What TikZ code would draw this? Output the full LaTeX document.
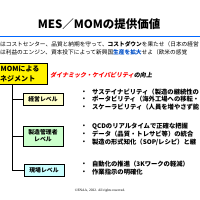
\documentclass[tikz,border=0pt]{standalone}
\usepackage{fontspec}
\usetikzlibrary{shadows}
\newfontfamily\jp{Noto Sans CJK JP}
\newfontfamily\jpsl{Noto Sans CJK JP}[FakeSlant=0.2]
\newfontfamily\cpfont{Liberation Serif}
\definecolor{titleblue}{RGB}{0,102,255}
\definecolor{textblue}{RGB}{0,80,200}
\definecolor{lvyellow}{RGB}{255,255,204}
\definecolor{lvgreen}{RGB}{204,255,204}
\definecolor{lvcyan}{RGB}{204,255,255}
\tikzset{
  body/.style={anchor=west, inner sep=0pt, font=\jp\fontsize{8.1}{9}\selectfont},
  bul/.style={anchor=west, inner sep=0pt, font=\jp\bfseries\fontsize{9}{10}\selectfont},
  dot/.style={anchor=center, inner sep=0pt, font=\jp\bfseries\fontsize{8}{9}\selectfont},
  lvbox/.style={draw=black, line width=0.5pt, minimum width=20mm, align=center, inner sep=0pt,
    font=\jp\bfseries\fontsize{8.3}{10}\selectfont,
    drop shadow={shadow xshift=0.35mm, shadow yshift=-0.35mm, fill=black!60, opacity=1}},
  conn/.style={draw=black, line width=0.5pt}
}
\begin{document}
\begin{tikzpicture}[x=0.5mm,y=-0.5mm]
\useasboundingbox (0,0) rectangle (200,200);
\clip (0,0) rectangle (200,200);
\fill[white] (0,0) rectangle (200,200);
% title
\node[inner sep=0pt, font=\jp\bfseries\fontsize{16.3}{18}\selectfont] (title) at (99,24) {MES／MOMの提供価値};
\coordinate (bl) at (0,36);
\coordinate (br) at (200,36);
\draw[titleblue, line width=1.3pt] (bl) -- (br);
% intro lines
\node[body] (l1) at (0,44) {はコストセンター、品質と納期を守って、\textbf{コストダウン}を果たせ（日本の経営};
\node[body] (l2) at (0,52) {は利益のエンジン、資本投下によって新興国\textcolor{textblue}{\textbf{生産を拡大}}せよ（欧米の感覚};
% MOM box
\node[draw=black, fill=yellow, line width=0.6pt, minimum width=26mm, minimum height=10.5mm, inner sep=0pt,
  drop shadow={shadow xshift=0.35mm, shadow yshift=-0.35mm, fill=black!60}] (mom) at (21,73.5) {};
\node[anchor=west, inner sep=0pt, font=\jp\bfseries\fontsize{10}{11}\selectfont] (mom1) at (0.5,69) {MOMによる};
\node[anchor=west, inner sep=0pt, font=\jp\bfseries\fontsize{10}{11}\selectfont] (mom2) at (0,78.5) {ネジメント};
% red subtitle
\node[anchor=west, inner sep=0pt, font=\jpsl\bfseries\fontsize{8.6}{9}\selectfont] (dyn) at (50,75) {\textcolor{red}{ダイナミック・ケイパビリティ}の向上};
% level boxes
\node[lvbox, fill=lvyellow, minimum height=6mm] (lv1) at (43,99) {経営レベル};
\node[lvbox, fill=lvgreen, minimum height=10mm] (lv2) at (43,136) {製造管理者\\レベル};
\node[lvbox, fill=lvcyan, minimum height=6mm] (lv3) at (44,170) {現場レベル};
% connectors
\coordinate (trunk) at (12,0);
\draw[conn] (mom.south -| trunk) |- (lv1.west);
\draw[conn] (mom.south -| trunk) |- (lv2.west);
\draw[conn] (mom.south -| trunk) |- (lv3.west);
% bullets group 1
\node[dot] (d11) at (84,92) {•};
\node[dot] (d12) at (84,99.5) {•};
\node[dot] (d13) at (84,107) {•};
\node[bul] (b11) at (92,92) {サステイナビリティ（製造の継続性の};
\node[bul] (b12) at (92,99.5) {ポータビリティ（海外工場への移転・};
\node[bul] (b13) at (92,107) {スケーラビリティ（人員を増やさず能};
% group 2
\node[dot] (d21) at (84,126.5) {•};
\node[dot] (d22) at (84,134.5) {•};
\node[dot] (d23) at (84,142.5) {•};
\node[bul] (b21) at (92,126.5) {QCDのリアルタイムで正確な把握};
\node[bul] (b22) at (92,134.5) {データ（品質・トレサビ等）の統合};
\node[bul] (b23) at (92,142.5) {製造の形式知化（SOP/レシピ）と継};
% group 3
\node[dot] (d31) at (84,164.5) {•};
\node[dot] (d32) at (84,172) {•};
\node[bul] (b31) at (92,164.5) {自動化の推進（3Kワークの軽減）};
\node[bul] (b32) at (92,172) {作業指示の明確化};
% copyright
\node[inner sep=0pt, font=\cpfont\fontsize{5}{6}\selectfont] (copy) at (100,191) {©ENAA, 2022. All rights reserved.};
\end{tikzpicture}
\end{document}
